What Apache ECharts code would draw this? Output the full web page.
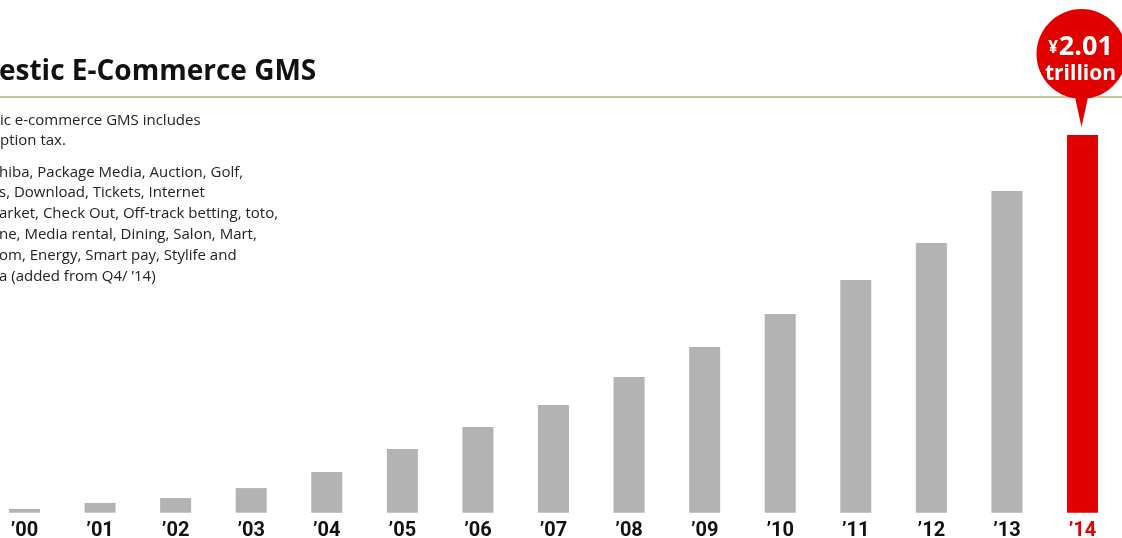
<!DOCTYPE html>
<html>
<head>
<meta charset="utf-8">
<script src="https://cdn.jsdelivr.net/npm/echarts@6/dist/echarts.min.js"></script>
<style>
html,body{margin:0;padding:0;background:#fff;}
#main{width:1122px;height:538px;}
</style>
</head>
<body>
<div id="main"></div>
<script>
// Data (trillion yen)
const categories = ["’00","’01","’02","’03","’04","’05","’06","’07","’08","’09","’10","’11","’12","’13","’14"];
const gmsValues = [0.02, 0.052, 0.078, 0.131, 0.217, 0.339, 0.456, 0.573, 0.722, 0.882, 1.057, 1.238, 1.435, 1.712, 2.01];
const titleText = "estic E-Commerce GMS";
const noteBlock1 = ["ic e-commerce GMS includes", "ption tax."];
const noteBlock2 = ["hiba, Package Media, Auction, Golf,", "s, Download, Tickets, Internet", "arket, Check Out, Off-track betting, toto,", "ne, Media rental, Dining, Salon, Mart,", "om, Energy, Smart pay, Stylife and", "a (added from Q4/ ’14)"];
const calloutValue = "2.01";
const calloutUnit = "trillion";

const RED = '#e00000';
const GRAY = '#b3b3b3';
const lastIdx = categories.length - 1;

const chart = echarts.init(document.getElementById('main'), null, {renderer: 'canvas'});

const bubblePath = 'path://M0,45 A45,45 0 1,1 90,45 A45,45 0 1,1 0,45 Z M38,86 L52,86 L45,118 Z';

const option = {
  animation: false,
  backgroundColor: '#fff',
  grid: {left: -13.3, right: 1.7, top: 135, bottom: 25.3, outerBoundsMode: 'none', containLabel: false},
  xAxis: {
    type: 'category',
    data: categories.map((c, i) => i === lastIdx ? {value: c, textStyle: {color: RED}} : c),
    axisLine: {show: false},
    axisTick: {show: false},
    axisLabel: {
      color: '#111',
      fontFamily: 'Roboto',
      fontWeight: 'bold',
      fontSize: 20,
      margin: 8,
      interval: 0
    }
  },
  yAxis: {
    type: 'value',
    min: 0,
    max: 2.01,
    show: false,
    splitLine: {show: false}
  },
  graphic: [
    {type: 'line', shape: {x1: 0, y1: 97, x2: 1122, y2: 97}, style: {stroke: '#c6c29c', lineWidth: 2}, z: 1},
    {type: 'text', left: -1, top: 58, style: {text: titleText, font: 'bold 28px "Open Sans"', fill: '#111'}},
    {type: 'text', left: 0, top: 111, style: {text: noteBlock1.join('\n'), font: '15px "Open Sans"', lineHeight: 19.5, fill: '#222'}},
    {type: 'text', left: -1, top: 162, style: {text: noteBlock2.join('\n'), font: '15px "Open Sans"', lineHeight: 20.8, fill: '#222'}}
  ],
  series: [{
    type: 'bar',
    data: gmsValues,
    barWidth: 31,
    itemStyle: {color: p => p.dataIndex === lastIdx ? RED : GRAY},
    z: 3,
    markPoint: {
      silent: true,
      symbol: bubblePath,
      symbolSize: [90, 118],
      symbolOffset: [-1, -67],
      itemStyle: {color: RED},
      label: {
        show: true,
        position: 'inside',
        offset: [-1, -8],
        formatter: () => '{y|¥}{n|' + calloutValue + '}\n{t|' + calloutUnit + '}',
        rich: {
          y: {fontFamily: 'Open Sans', fontWeight: 'bold', fontSize: 17, color: '#fff', padding: [3, 1, 0, 0]},
          n: {fontFamily: 'Open Sans', fontWeight: 'bold', fontSize: 27, color: '#fff', lineHeight: 28},
          t: {fontFamily: 'Open Sans', fontWeight: 'bold', fontSize: 21, color: '#fff', lineHeight: 26}
        }
      },
      data: [{coord: [categories[lastIdx], gmsValues[lastIdx]]}]
    }
  }]
};
chart.setOption(option);
</script>
</body>
</html>
